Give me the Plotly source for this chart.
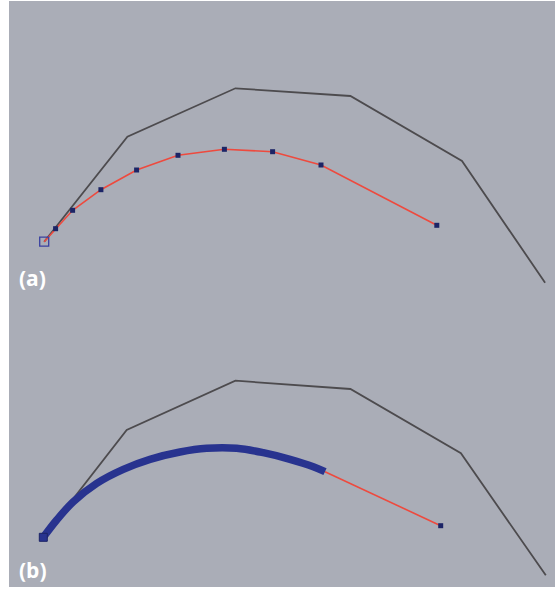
import plotly.graph_objects as go

# Panel (a): control polygon (pixel coordinates of the diagram)
poly_a_x = [44.2, 127.4, 235.4, 350.4, 462.0, 545.1]
poly_a_y = [241.7, 136.7, 88.3, 96.0, 161.0, 282.7]
# Panel (a): sampled curve points (red polyline with markers)
curve_a_x = [44.2, 55.6, 72.6, 100.9, 136.6, 178.0, 224.4, 272.6, 321.0, 436.8]
curve_a_y = [241.7, 228.7, 210.3, 189.7, 170.0, 155.3, 149.3, 151.7, 165.0, 225.3]

# Panel (b): control polygon
poly_b_x = [42.5, 126.7, 235.4, 350.4, 460.9, 545.8]
poly_b_y = [538.3, 430.0, 380.7, 389.0, 453.3, 575.3]
# Panel (b): densely traced curve portion (thick blue)
dense_b_x = [43.3, 56.7, 73.3, 96.7, 123.3, 150.0, 180.0, 206.7, 236.7, 263.3, 290.0, 313.3, 325.0]
dense_b_y = [537.3, 520.0, 501.7, 483.3, 469.3, 459.3, 452.0, 448.3, 448.3, 452.7, 459.3, 466.7, 471.7]
# Panel (b): remaining straight segment to the end point
tail_b_x = [325.0, 440.7]
tail_b_y = [471.7, 525.7]

labels = ["(a)", "(b)"]
label_x = [17, 17]
label_y = [278, 570]

BG = "#AAADB7"
POLY = "#4D4B4E"
RED = "#EE4A3E"
NAVY = "#1C2466"
BLUE = "#28338F"

fig = go.Figure()

fig.add_trace(go.Scatter(x=poly_a_x, y=poly_a_y, mode="lines",
                         line=dict(color=POLY, width=1.8), hoverinfo="skip"))
fig.add_trace(go.Scatter(x=curve_a_x, y=curve_a_y, mode="lines",
                         line=dict(color=RED, width=1.6), hoverinfo="skip"))
fig.add_trace(go.Scatter(x=curve_a_x[1:], y=curve_a_y[1:], mode="markers",
                         marker=dict(symbol="square", size=5, color=NAVY), hoverinfo="skip"))
fig.add_trace(go.Scatter(x=curve_a_x[:1], y=curve_a_y[:1], mode="markers",
                         marker=dict(symbol="square-open", size=9, color="#3A40A0",
                                     line=dict(width=1.3)), hoverinfo="skip"))

fig.add_trace(go.Scatter(x=poly_b_x, y=poly_b_y, mode="lines",
                         line=dict(color=POLY, width=1.8), hoverinfo="skip"))
fig.add_trace(go.Scatter(x=tail_b_x, y=tail_b_y, mode="lines",
                         line=dict(color=RED, width=1.6), hoverinfo="skip"))
fig.add_trace(go.Scatter(x=dense_b_x, y=dense_b_y, mode="lines",
                         line=dict(color=BLUE, width=7.5, shape="spline"), hoverinfo="skip"))
fig.add_trace(go.Scatter(x=tail_b_x[1:], y=tail_b_y[1:], mode="markers",
                         marker=dict(symbol="square", size=5, color=NAVY), hoverinfo="skip"))
fig.add_trace(go.Scatter(x=dense_b_x[:1], y=dense_b_y[:1], mode="markers",
                         marker=dict(symbol="square", size=8, color=BLUE,
                                     line=dict(color=NAVY, width=1)), hoverinfo="skip"))

for t, x, y in zip(labels, label_x, label_y):
    fig.add_annotation(x=x, y=y, text=f"<b>{t}</b>", showarrow=False,
                       xanchor="left", yanchor="middle",
                       font=dict(family="Open Sans", size=21, color="white"))

fig.update_layout(
    width=555, height=589,
    margin=dict(l=9, r=0, t=1, b=2),
    paper_bgcolor="white", plot_bgcolor=BG,
    showlegend=False,
    xaxis=dict(range=[9, 555], visible=False, fixedrange=True),
    yaxis=dict(range=[587, 1], visible=False, fixedrange=True),
)

fig.write_html("out.html", config={"displayModeBar": False},
               post_script="document.body.style.margin='0';document.body.style.overflow='hidden';")
